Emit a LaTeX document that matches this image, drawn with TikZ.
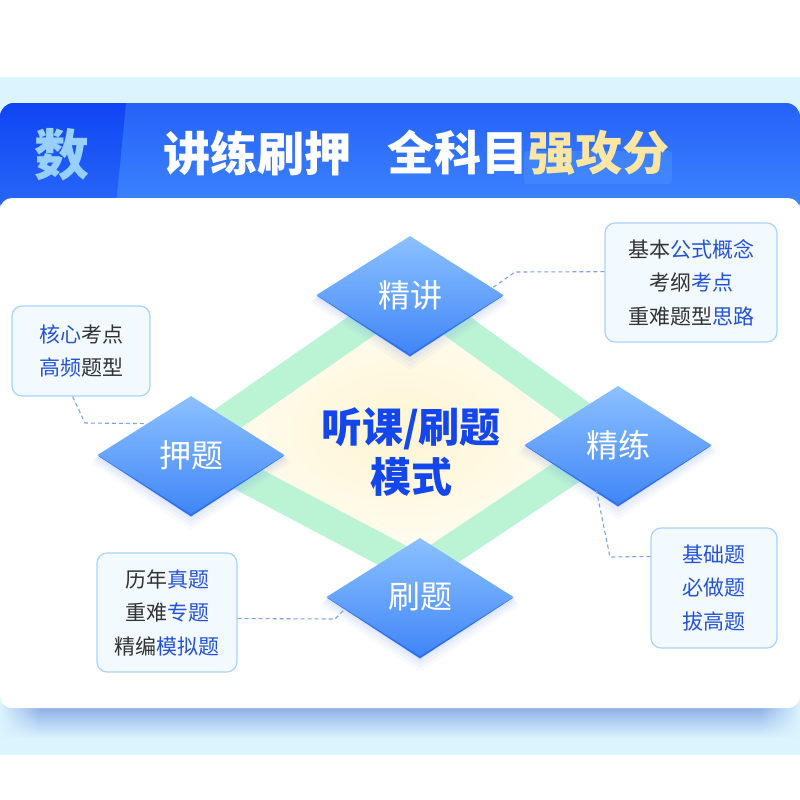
\documentclass[tikz,border=0pt]{standalone}
\usepackage{fontspec}
\setmainfont{Noto Sans CJK SC}
\usetikzlibrary{shapes.geometric,fadings,calc}
\definecolor{lightbg}{HTML}{DBF4FE}
\definecolor{shadowc}{HTML}{86A8E4}
\definecolor{hdtop}{HTML}{2562F8}
\definecolor{hdbot}{HTML}{3F86FF}
\definecolor{hddka}{HTML}{0F45F3}
\definecolor{hddkb}{HTML}{2A6AF8}
\definecolor{shu}{HTML}{97CFFF}
\definecolor{gold}{HTML}{FCE6A4}
\definecolor{hl}{HTML}{4B8FFF}
\definecolor{bandc}{HTML}{BAF4D5}
\definecolor{fillin}{HTML}{FFF5D2}
\definecolor{fillout}{HTML}{FFFDF6}
\definecolor{dtop}{HTML}{8CC1FF}
\definecolor{dbot}{HTML}{4086F7}
\definecolor{rimc}{HTML}{3170EE}
\definecolor{dshc}{HTML}{5F88E6}
\definecolor{boxb}{HTML}{A9D3FB}
\definecolor{boxf}{HTML}{F2F9FF}
\definecolor{dk}{HTML}{333333}
\definecolor{bl}{HTML}{2452D8}
\definecolor{connc}{HTML}{7BA4EA}
\definecolor{ctext}{HTML}{1446EE}
\newcommand{\bdia}[4]{%
  \begin{scope}[shift={(#2,#3)}]
    \foreach \s/\o in {16/0.04,12/0.05,8/0.06,4/0.07}{
      \fill[dshc, opacity=\o] (-93.5-0.4*\s,0.5*\s) -- (0,59+\s) -- (93.5+0.4*\s,0.5*\s) -- (0,-59+0.5*\s) -- cycle;}
    \fill[rimc] (-93.5,0.5) -- (0,61.5) -- (93.5,0.5) -- cycle;
  \end{scope}
  \node[bdstyle] (#1) at (#2,#3) {#4};}
\begin{document}
\begin{tikzpicture}[x=1pt,y=-1pt,
  bdstyle/.style={diamond, minimum width=187pt, minimum height=118pt, inner sep=0pt, aspect=1.585,
    top color=dtop, bottom color=dbot, text=white, font=\fontsize{32}{32}\selectfont},
  cbox/.style={draw=boxb, line width=1.2pt, fill=boxf, rounded corners=10pt, inner sep=0pt,
    align=center, font=\fontsize{21}{33.5}\selectfont, text=dk},
  conn/.style={draw=connc, line width=1.1pt, dash pattern=on 4pt off 3pt},
  titlefont/.style={font=\bfseries\fontsize{47}{47}\selectfont, text=white, inner sep=0pt}]
\useasboundingbox (0,0) rectangle (800,800);
\fill[white] (0,0) rectangle (800,800);
\fill[lightbg] (0,77) rectangle (800,755);
% card shadow
\shade[top color=shadowc, bottom color=lightbg, path fading=west] (0,704) rectangle (40,738);
\shade[top color=shadowc, bottom color=lightbg, path fading=east] (760,704) rectangle (800,738);
\shade[top color=shadowc, bottom color=lightbg] (40,704) rectangle (760,738);
% header
\begin{scope}
  \clip[rounded corners=14pt] (0,103) rectangle (800,215);
  \shade[top color=hdtop, bottom color=hdbot] (0,103) rectangle (800,215);
  \shade[top color=hddka, bottom color=hddkb] (0,103) -- (126,103) -- (115,215) -- (0,215) -- cycle;
\end{scope}
\node[font=\bfseries\fontsize{55}{55}\selectfont, text=shu, inner sep=0pt] (shu) at (62,155) {数};
\fill[hl, opacity=0.55, rounded corners=3pt] (524,151) rectangle (672,184);
\node[titlefont] (t1) at (257.5,153) {讲练刷押};
\node[titlefont] (t2) at (528.5,153) {全科目\textcolor{gold}{强攻分}};
% card
\fill[white, rounded corners=12pt] (0,198) rectangle (800,708);
% green frame
\coordinate (gT) at (410,292);
\coordinate (gR) at (615,440);
\coordinate (gB) at (420,570);
\coordinate (gL) at (187,447);
\shade[inner color=fillin, outer color=fillout] (gT) -- (gR) -- (gB) -- (gL) -- cycle;
\draw[line width=30pt, bandc, line join=miter] (gT) -- (gR) -- (gB) -- (gL) -- cycle;
% center text
\node[font=\bfseries\fontsize{41}{50}\selectfont, text=ctext, align=center, inner sep=0pt] (ct) at (411,452) {听课/刷题\\模式};
% blue diamonds
\bdia{jj}{410}{295}{精讲}
\bdia{yt}{191}{455}{押题}
\bdia{jl}{618}{445}{精练}
\bdia{st}{420}{597}{刷题}
% callout boxes
\node[cbox, minimum width=172pt, minimum height=119pt] (b1) at (691,282.5)
  {基本\textcolor{bl}{公式概念}\\考纲\textcolor{bl}{考点}\\重难题型\textcolor{bl}{思路}};
\node[cbox, minimum width=138pt, minimum height=90pt] (b2) at (81,351)
  {\textcolor{bl}{核心}考点\\\textcolor{bl}{高频}题型};
\node[cbox, minimum width=140pt, minimum height=119pt] (b3) at (167,612.5)
  {历年\textcolor{bl}{真题}\\重难\textcolor{bl}{专题}\\精编\textcolor{bl}{模拟题}};
\node[cbox, minimum width=126pt, minimum height=120pt, text=bl] (b4) at (714,588)
  {基础题\\必做题\\拔高题};
% connectors
\coordinate (k1) at (515,272);
\draw[conn] ($(b1.north west)!0.41!(b1.south west)$) -- (k1) -- ($(jj.north)!0.88!(jj.east)$);
\coordinate (k2) at (85,423);
\draw[conn] ($(b2.south west)!0.44!(b2.south east)$) -- (k2) -- ($(yt.west)!0.53!(yt.north)$);
\coordinate (k3) at (335,619);
\draw[conn] ($(b3.north east)!0.55!(b3.south east)$) -- (k3) -- ($(st.west)!0.2!(st.south)$);
\coordinate (k4) at (610,557);
\draw[conn] ($(b4.north west)!0.24!(b4.south west)$) -- (k4) -- ($(jl.south)!0.23!(jl.west)$);
\end{tikzpicture}
\end{document}
